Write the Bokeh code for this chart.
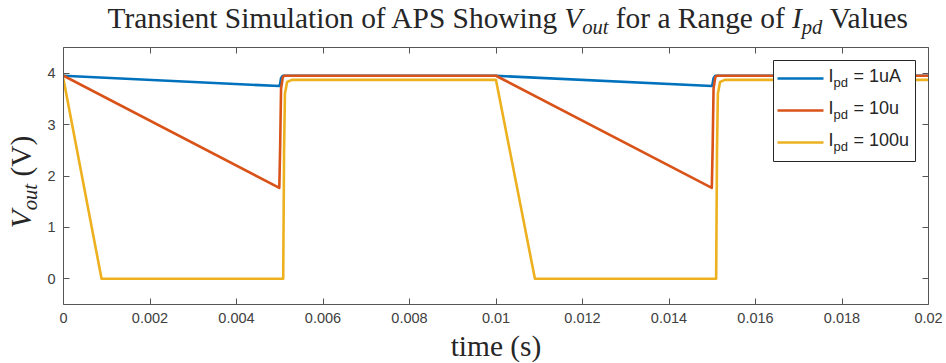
import glob
import os

from bokeh.embed import file_html
from bokeh.layouts import column, row
from bokeh.models import (Arrow, BoxAnnotation, FixedTicker, Label, LinearAxis,
                          NumeralTickFormatter, Range1d)
from bokeh.plotting import figure
from bokeh.resources import INLINE

# ---------------- data ----------------
time_1u = [0.0, 0.00499, 0.00501, 0.00503, 0.00507, 0.0100,
           0.01499, 0.01501, 0.01503, 0.01507, 0.0200]
vout_1u = [3.95, 3.75, 3.80, 3.90, 3.95, 3.95,
           3.75, 3.80, 3.90, 3.95, 3.95]

time_10u = [0.0, 0.00499, 0.00501, 0.00503, 0.00507, 0.0051, 0.0100,
            0.01499, 0.01501, 0.01503, 0.01507, 0.0151, 0.0200]
vout_10u = [3.95, 1.77, 2.60, 3.70, 3.92, 3.95, 3.95,
            1.77, 2.60, 3.70, 3.92, 3.95, 3.95]

time_100u = [0.0, 0.00088, 0.00508, 0.00510, 0.00512, 0.00517, 0.00528, 0.0100,
             0.01090, 0.01509, 0.01511, 0.01513, 0.01518, 0.01529, 0.0200]
vout_100u = [3.88, 0.0, 0.0, 2.50, 3.60, 3.83, 3.87, 3.87,
             0.0, 0.0, 2.50, 3.60, 3.83, 3.87, 3.87]

x_ticks = [0, 0.002, 0.004, 0.006, 0.008, 0.01, 0.012, 0.014, 0.016, 0.018, 0.02]
y_ticks = [0, 1, 2, 3, 4]
series_names = ["= 1uA", "= 10u", "= 100u"]
series_colors = ["#0072BD", "#D95319", "#EDB120"]

# ---------------- layout (canvas px of the whole 946x363 page) ----------------
W, H = 946, 363
FL, FR, FT, FB = 63, 928, 47, 304      # plot frame
TOP_H = 40                              # title strip height
LEFT_W = 40                             # y-label strip width
BOT_H = 34                              # x-label strip height
MAIN_W, MAIN_H = W - LEFT_W, H - TOP_H - BOT_H
AXC = "#555555"
TXT = "#262626"
TICK_TXT = "#404040"
MID_SERIF = 0.34     # em distance from baseline up to the "middle" anchor
MID_SANS = 0.35
ROT_FIX = 31         # measured along-text offset of rotated labels


def find_font(fname):
    for root in ["/usr/share/fonts", "/usr/local/share/fonts",
                 os.path.expanduser("~/.fonts"), os.path.expanduser("~/.local/share/fonts")]:
        hits = glob.glob(os.path.join(root, "**", fname), recursive=True)
        if hits:
            return hits[0]
    return None


def text_w(txt, fname, size):
    path = find_font(fname)
    if path:
        try:
            from PIL import ImageFont
            return ImageFont.truetype(path, size).getlength(txt)
        except Exception:
            pass
    return 0.5 * size * len(txt)


REG = "LiberationSerif-Regular.ttf"
ITA = "LiberationSerif-Italic.ttf"


def blank_fig(w, h):
    f = figure(width=w, height=h, output_backend="svg", toolbar_location=None,
               x_range=Range1d(0, 1), y_range=Range1d(0, 1),
               x_axis_location=None, y_axis_location=None, min_border=0)
    f.outline_line_color = None
    f.grid.visible = False
    f.background_fill_color = "white"
    f.border_fill_color = "white"
    return f


# ---------------- main plot ----------------
p = figure(width=MAIN_W, height=MAIN_H, output_backend="svg", toolbar_location=None,
           x_range=Range1d(0, 0.02), y_range=Range1d(-0.5, 4.5),
           min_border_left=FL - LEFT_W, min_border_right=W - FR,
           min_border_top=FT - TOP_H, min_border_bottom=(H - BOT_H) - FB)
p.outline_line_color = None
p.xgrid.visible = False
p.ygrid.visible = False
p.background_fill_color = "white"
p.border_fill_color = "white"

for tx, vy, col, nm in [(time_1u, vout_1u, series_colors[0], series_names[0]),
                        (time_10u, vout_10u, series_colors[1], series_names[1]),
                        (time_100u, vout_100u, series_colors[2], series_names[2])]:
    p.line(tx, vy, line_color=col, line_width=2.6, line_join="round", line_cap="round",
           name=nm)


def style_axis(ax, ticks, labels=True):
    ax.ticker = FixedTicker(ticks=ticks)
    ax.axis_line_color = AXC
    ax.axis_line_width = 1
    ax.major_tick_line_color = AXC
    ax.major_tick_in = 6
    ax.major_tick_out = 0
    ax.minor_tick_line_color = None
    ax.major_label_text_font = "Liberation Sans"
    ax.major_label_text_font_size = "14.5px"
    ax.major_label_text_color = TICK_TXT
    if not labels:
        ax.major_label_text_font_size = "0px"
        ax.major_label_text_alpha = 0
        ax.major_label_standoff = 0


style_axis(p.xaxis[0], x_ticks)
p.xaxis[0].formatter = NumeralTickFormatter(format="0.[000]")
p.xaxis[0].major_label_standoff = 8
style_axis(p.yaxis[0], y_ticks)
p.yaxis[0].major_label_standoff = 8

top_ax = LinearAxis()
style_axis(top_ax, x_ticks, labels=False)
p.add_layout(top_ax, "above")
right_ax = LinearAxis()
style_axis(right_ax, y_ticks, labels=False)
p.add_layout(right_ax, "right")


# ---------------- legend (drawn by hand, frame-relative screen units) ----------------
def fx(cx):
    return cx - FL


def fy(cy):
    return FB - cy


LEG_L, LEG_R, LEG_T, LEG_B = 773, 915, 60, 161
p.add_layout(BoxAnnotation(left=fx(LEG_L), right=fx(LEG_R), top=fy(LEG_T), bottom=fy(LEG_B),
                           left_units="screen", right_units="screen",
                           top_units="screen", bottom_units="screen",
                           fill_color="white", fill_alpha=1.0,
                           line_color="#262626", line_width=1, line_alpha=1.0,
                           level="annotation"))
for i, name in enumerate(series_names):
    yc = 78 + 32 * i
    base = yc + 4
    p.add_layout(Arrow(end=None, x_start=fx(777), y_start=fy(yc), x_end=fx(823), y_end=fy(yc),
                       start_units="screen", end_units="screen",
                       line_color=series_colors[i], line_width=2.6, level="overlay"))
    for txt, cx, b, fs in [("I", 828, base, 18), ("pd", 833, base + 5, 13),
                           (name, 853, base, 18)]:
        p.add_layout(Label(x=fx(cx), y=fy(b - MID_SANS * fs), x_units="screen",
                           y_units="screen", text=txt, text_font="Liberation Sans",
                           text_font_size=f"{fs}px", text_color=TXT,
                           text_baseline="middle", text_align="left", level="overlay"))


# ---------------- composed serif texts ----------------
def compose(pieces, size):
    out = []
    pos = 0.0
    for txt, ffile, ital, sub, sp in pieces:
        fs = size * (0.7 if sub else 1.0)
        w = text_w(txt, ffile, fs)
        out.append((txt, pos, w, fs, ital, sub))
        pos += w
        if sp:
            pos += text_w(" ", REG, size)
    return out, pos


def put(fig, x, y, txt, fs, ital, **kw):
    fig.add_layout(Label(x=x, y=y, x_units="screen", y_units="screen", text=txt,
                         text_font="Liberation Serif", text_font_size=f"{fs:.1f}px",
                         text_font_style="italic" if ital else "normal",
                         text_color=TXT, text_baseline="middle", **kw))


title_pieces = [("Transient Simulation of APS Showing", REG, False, False, True),
                ("V", ITA, True, False, False),
                ("out", ITA, True, True, True),
                ("for a Range of", REG, False, False, True),
                ("I", ITA, True, False, False),
                ("pd", ITA, True, True, True),
                ("Values", REG, False, False, False)]
_, w24 = compose(title_pieces, 24)
TS = max(20.0, min(32.0, 24 * 801.0 / w24))
SUB_DROP = 0.22 * TS

# title strip (canvas y -> strip screen y: TOP_H - cy)
title_fig = blank_fig(W, TOP_H)
placed, tw = compose(title_pieces, TS)
t_left = 107
t_base = 27
for txt, pos, w, fs, ital, sub in placed:
    b = t_base + (SUB_DROP if sub else 0)
    put(title_fig, t_left + pos, TOP_H - (b - MID_SERIF * fs), txt, fs, ital,
        text_align="left")

# y-label strip, rotated (canvas y -> strip screen y: TOP_H + MAIN_H - cy)
ylab_fig = blank_fig(LEFT_W, MAIN_H)
y_pieces = [("V", ITA, True, False, False),
            ("out", ITA, True, True, True),
            ("(V)", REG, False, False, False)]
yplaced, yw = compose(y_pieces, TS)
y_start = (FT + FB) / 2 + yw / 2
y_base_x = 30
for txt, pos, w, fs, ital, sub in yplaced:
    cy = y_start - pos - w / 2 + ROT_FIX
    bx = y_base_x + (SUB_DROP if sub else 0)
    put(ylab_fig, bx - MID_SERIF * fs, (TOP_H + MAIN_H) - cy, txt, fs, ital,
        text_align="center", angle=1.5707963)

# x-label strip (canvas y -> strip screen y: H - cy)
xlab_fig = blank_fig(W, BOT_H)
put(xlab_fig, (FL + FR) / 2, H - (355 - MID_SERIF * TS), "time (s)", TS, False,
    text_align="center")

layout = column(title_fig, row(ylab_fig, p, spacing=0), xlab_fig, spacing=0)
open("out.html", "w").write(file_html(layout, INLINE))
